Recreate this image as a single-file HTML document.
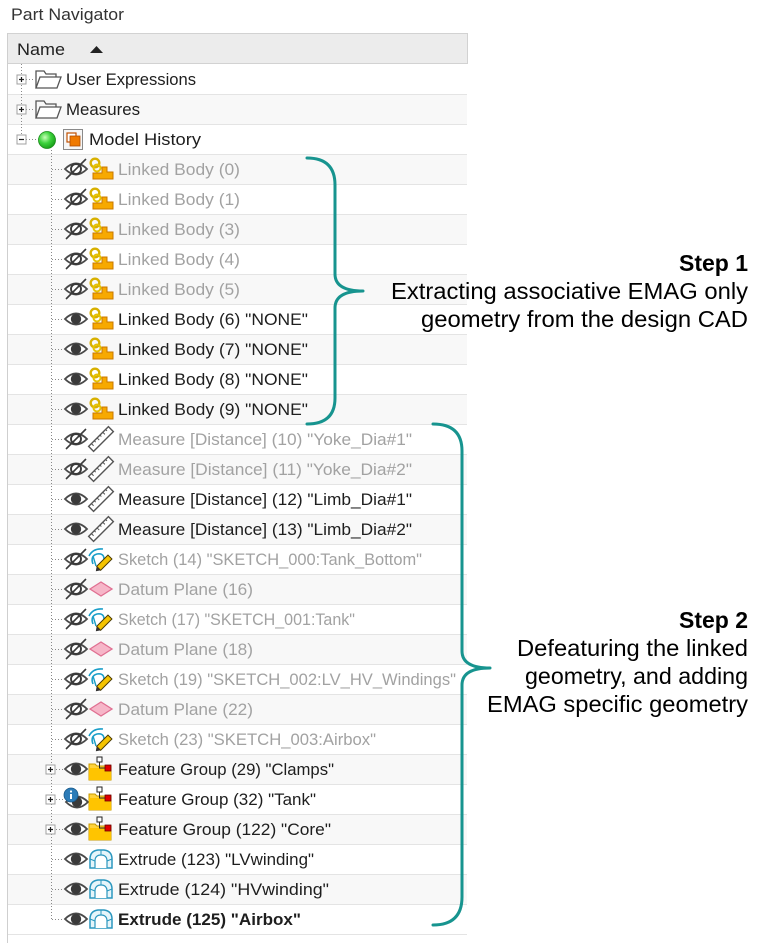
<!DOCTYPE html>
<html><head><meta charset="utf-8">
<style>
html,body{margin:0;padding:0;background:#fff;}
svg{display:block;font-family:"Liberation Sans",Arial,sans-serif;}
</style></head>
<body>
<svg width="764" height="943" viewBox="0 0 764 943" xmlns="http://www.w3.org/2000/svg">
<defs>
  <radialGradient id="gg" cx="0.38" cy="0.35" r="0.7">
    <stop offset="0" stop-color="#c8ffb8"/>
    <stop offset="0.5" stop-color="#3cd23c"/>
    <stop offset="1" stop-color="#169a16"/>
  </radialGradient>
  <g id="eye">
    <path d="M-11,0 Q0,-11 11,0 Q0,11 -11,0Z" fill="#fff" stroke="#4a4a4a" stroke-width="1.8"/>
    <circle r="5.2" fill="#3a3a3a"/>
  </g>
  <g id="heye">
    <path d="M-11,0 Q0,-11 11,0 Q0,11 -11,0Z" fill="#fff" stroke="#4a4a4a" stroke-width="1.8"/>
    <circle r="5" fill="none" stroke="#3a3a3a" stroke-width="1.9"/>
    <line x1="-10" y1="10" x2="10" y2="-10" stroke="#3a3a3a" stroke-width="1.6"/>
  </g>
  <g id="link">
    <circle cx="-6" cy="-6" r="4.3" fill="none" stroke="#d8b000" stroke-width="2.4"/>
    <circle cx="-4" cy="-1" r="3.5" fill="none" stroke="#e6c200" stroke-width="2"/>
    <path d="M-8,10 L12,10 L12,3 L6,3 L6,-2 L1,-2 L1,4 L-8,4Z" fill="#f7a900" stroke="#c87800" stroke-width="1"/>
  </g>
  <g id="ruler">
    <g transform="rotate(-45)">
      <rect x="-14" y="-3.5" width="28" height="7" fill="#fff" stroke="#555" stroke-width="1.4"/>
      <path d="M-10,-3.5v3 M-6,-3.5v2 M-2,-3.5v3 M2,-3.5v2 M6,-3.5v3 M10,-3.5v2" stroke="#555" stroke-width="1"/>
    </g>
  </g>
  <g id="sketch">
    <path d="M-12,-3 Q-8,-11 2,-10" fill="none" stroke="#1a9ec8" stroke-width="1.6"/>
    <path d="M-8,5 Q-11,-3 -4,-5 Q3,-6 3,0" fill="none" stroke="#1a9ec8" stroke-width="1.6"/>
    <path d="M-5,7 L-8,-3" fill="none" stroke="#1a9ec8" stroke-width="1.4"/>
    <g transform="translate(4,3) rotate(-45)">
      <rect x="-9" y="-2.8" width="16" height="5.6" fill="#f5c400" stroke="#4a3a00" stroke-width="1"/>
      <path d="M-9,-2.8 L-13,0 L-9,2.8Z" fill="#333"/>
    </g>
  </g>
  <g id="datum">
    <polygon points="-11,0 0,-7 11,0 0,7" fill="#f6b6c8" stroke="#e07092" stroke-width="1.3"/>
  </g>
  <g id="fgroup">
    <path d="M-12,11 V-5 H-6 L-4,-3 H10 V11Z" fill="#ffd23a" stroke="#c79a00" stroke-width="1"/>
    <path d="M-12,11 V-1 H10 V11Z" fill="#ffc400"/>
    <rect x="-4" y="-12" width="5" height="5" fill="#fff" stroke="#222" stroke-width="1"/>
    <path d="M-1.5,-7 V-1 H4" fill="none" stroke="#222" stroke-width="1"/>
    <rect x="4" y="-4" width="6" height="6" fill="#e00000" stroke="#600" stroke-width="0.8"/>
  </g>
  <g id="extrude">
    <path d="M-11,9 V0 Q-11,-8 -3,-9 L3,-9 Q11,-8 11,0 V9Z" fill="#e6f5fa" stroke="#2b97bf" stroke-width="1.5"/>
    <path d="M-6,9 V2 Q-6,-4 0,-4 Q6,-4 6,2 V9" fill="#fff" stroke="#2b97bf" stroke-width="1.2"/>
    <path d="M-11,0 L-6,2 M11,0 L6,2 M0,-9 V-4" stroke="#2b97bf" stroke-width="1"/>
  </g>
  <g id="plus">
    <rect x="-4.5" y="-4.5" width="9" height="9" fill="#fff" stroke="#a0a0a0" stroke-width="1"/>
    <path d="M-2.5,0 H2.5 M0,-2.5 V2.5" stroke="#222" stroke-width="1.2"/>
  </g>
  <g id="minus">
    <rect x="-4.5" y="-4.5" width="9" height="9" fill="#fff" stroke="#a0a0a0" stroke-width="1"/>
    <path d="M-2.5,0 H2.5" stroke="#222" stroke-width="1.2"/>
  </g>
  <g id="folder">
    <path d="M-12,9 V-8 H-4 L-2,-5 H8 V-2" fill="none" stroke="#555" stroke-width="1.3"/>
    <path d="M-12,9 L-8,-2 H13 L9,9Z" fill="#fff" stroke="#555" stroke-width="1.3"/>
  </g>
</defs>

<!-- title -->
<text x="11" y="20" font-size="17" fill="#333" textLength="113" lengthAdjust="spacingAndGlyphs">Part Navigator</text>

<!-- panel header -->
<rect x="7.5" y="33.5" width="460" height="30" fill="#ececec" stroke="#d2d2d2" stroke-width="1"/>
<text x="17" y="55" font-size="17" fill="#222" textLength="48" lengthAdjust="spacingAndGlyphs">Name</text>
<polygon points="90,53 103,53 96.5,46" fill="#222"/>

<!-- rows backgrounds -->
<g>
  <rect x="8" y="94" width="459" height="30" fill="#f8f8f8"/>
  <rect x="8" y="154" width="459" height="30" fill="#f8f8f8"/>
  <rect x="8" y="214" width="459" height="30" fill="#f8f8f8"/>
  <rect x="8" y="274" width="459" height="30" fill="#f8f8f8"/>
  <rect x="8" y="334" width="459" height="30" fill="#f8f8f8"/>
  <rect x="8" y="394" width="459" height="30" fill="#f8f8f8"/>
  <rect x="8" y="454" width="459" height="30" fill="#f8f8f8"/>
  <rect x="8" y="514" width="459" height="30" fill="#f8f8f8"/>
  <rect x="8" y="574" width="459" height="30" fill="#f8f8f8"/>
  <rect x="8" y="634" width="459" height="30" fill="#f8f8f8"/>
  <rect x="8" y="694" width="459" height="30" fill="#f8f8f8"/>
  <rect x="8" y="754" width="459" height="30" fill="#f8f8f8"/>
  <rect x="8" y="814" width="459" height="30" fill="#f8f8f8"/>
  <rect x="8" y="874" width="459" height="30" fill="#f8f8f8"/>
</g>
<g stroke="#e4e4e4" stroke-width="1">
  <path d="M8,94.5H467 M8,124.5H467 M8,154.5H467 M8,184.5H467 M8,214.5H467 M8,244.5H467 M8,274.5H467 M8,304.5H467 M8,334.5H467 M8,364.5H467 M8,394.5H467 M8,424.5H467 M8,454.5H467 M8,484.5H467 M8,514.5H467 M8,544.5H467 M8,574.5H467 M8,604.5H467 M8,634.5H467 M8,664.5H467 M8,694.5H467 M8,724.5H467 M8,754.5H467 M8,784.5H467 M8,814.5H467 M8,844.5H467 M8,874.5H467 M8,904.5H467 M8,934.5H467"/>
</g>
<line x1="7.5" y1="33" x2="7.5" y2="943" stroke="#cfcfcf" stroke-width="1"/>

<!-- tree lines -->
<g stroke="#8a8a8a" stroke-width="1" stroke-dasharray="1,2" fill="none">
  <path d="M21.5,64 V139"/>
  <path d="M26,79.5 H35 M26,109.5 H35 M26,139.5 H38"/>
  <path d="M51.5,150 V919"/>
  <path d="M52,169.5H63 M52,199.5H63 M52,229.5H63 M52,259.5H63 M52,289.5H63 M52,319.5H63 M52,349.5H63 M52,379.5H63 M52,409.5H63 M52,439.5H63 M52,469.5H63 M52,499.5H63 M52,529.5H63 M52,559.5H63 M52,589.5H63 M52,619.5H63 M52,649.5H63 M52,679.5H63 M52,709.5H63 M52,739.5H63 M56,769.5H63 M56,799.5H63 M56,829.5H63 M52,859.5H63 M52,889.5H63 M52,919.5H63"/>
</g>

<!-- top-level rows -->
<use href="#plus" x="21.5" y="79.5"/>
<use href="#folder" x="48" y="79"/>
<text x="66" y="85" font-size="16.5" fill="#1e1e1e" textLength="130" lengthAdjust="spacingAndGlyphs">User Expressions</text>

<use href="#plus" x="21.5" y="109.5"/>
<use href="#folder" x="48" y="109"/>
<text x="66" y="115" font-size="16.5" fill="#1e1e1e" textLength="74" lengthAdjust="spacingAndGlyphs">Measures</text>

<use href="#minus" x="21.5" y="139.5"/>
<circle cx="47" cy="140" r="8.5" fill="url(#gg)" stroke="#1a8a1a" stroke-width="0.8"/>
<rect x="63.5" y="129.5" width="19" height="20" fill="#f6f6f6" stroke="#8a8a8a" stroke-width="1"/>
<rect x="67" y="133" width="9" height="9" fill="#fff" stroke="#c05000" stroke-width="1.2"/>
<rect x="70" y="136" width="10" height="10" fill="#f07a00" stroke="#b04c00" stroke-width="0.8"/>
<text x="89" y="145" font-size="16.5" fill="#1e1e1e" textLength="112" lengthAdjust="spacingAndGlyphs">Model History</text>

<!-- children -->
<g font-size="16.5">
  <use href="#heye" x="76" y="169"/><use href="#link" x="101" y="169"/>
  <text x="118" y="175" fill="#a2a2a2" textLength="122" lengthAdjust="spacingAndGlyphs">Linked Body (0)</text>

  <use href="#heye" x="76" y="199"/><use href="#link" x="101" y="199"/>
  <text x="118" y="205" fill="#a2a2a2" textLength="122" lengthAdjust="spacingAndGlyphs">Linked Body (1)</text>

  <use href="#heye" x="76" y="229"/><use href="#link" x="101" y="229"/>
  <text x="118" y="235" fill="#a2a2a2" textLength="122" lengthAdjust="spacingAndGlyphs">Linked Body (3)</text>

  <use href="#heye" x="76" y="259"/><use href="#link" x="101" y="259"/>
  <text x="118" y="265" fill="#a2a2a2" textLength="122" lengthAdjust="spacingAndGlyphs">Linked Body (4)</text>

  <use href="#heye" x="76" y="289"/><use href="#link" x="101" y="289"/>
  <text x="118" y="295" fill="#a2a2a2" textLength="122" lengthAdjust="spacingAndGlyphs">Linked Body (5)</text>

  <use href="#eye" x="76" y="319"/><use href="#link" x="101" y="319"/>
  <text x="118" y="325" fill="#1e1e1e" textLength="190" lengthAdjust="spacingAndGlyphs">Linked Body (6) "NONE"</text>

  <use href="#eye" x="76" y="349"/><use href="#link" x="101" y="349"/>
  <text x="118" y="355" fill="#1e1e1e" textLength="190" lengthAdjust="spacingAndGlyphs">Linked Body (7) "NONE"</text>

  <use href="#eye" x="76" y="379"/><use href="#link" x="101" y="379"/>
  <text x="118" y="385" fill="#1e1e1e" textLength="190" lengthAdjust="spacingAndGlyphs">Linked Body (8) "NONE"</text>

  <use href="#eye" x="76" y="409"/><use href="#link" x="101" y="409"/>
  <text x="118" y="415" fill="#1e1e1e" textLength="190" lengthAdjust="spacingAndGlyphs">Linked Body (9) "NONE"</text>

  <use href="#heye" x="76" y="439"/><use href="#ruler" x="101" y="439"/>
  <text x="118" y="445" fill="#a2a2a2" textLength="294" lengthAdjust="spacingAndGlyphs">Measure [Distance] (10) "Yoke_Dia#1"</text>

  <use href="#heye" x="76" y="469"/><use href="#ruler" x="101" y="469"/>
  <text x="118" y="475" fill="#a2a2a2" textLength="294" lengthAdjust="spacingAndGlyphs">Measure [Distance] (11) "Yoke_Dia#2"</text>

  <use href="#eye" x="76" y="499"/><use href="#ruler" x="101" y="499"/>
  <text x="118" y="505" fill="#1e1e1e" textLength="294" lengthAdjust="spacingAndGlyphs">Measure [Distance] (12) "Limb_Dia#1"</text>

  <use href="#eye" x="76" y="529"/><use href="#ruler" x="101" y="529"/>
  <text x="118" y="535" fill="#1e1e1e" textLength="294" lengthAdjust="spacingAndGlyphs">Measure [Distance] (13) "Limb_Dia#2"</text>

  <use href="#heye" x="76" y="559"/><use href="#sketch" x="101" y="559"/>
  <text x="118" y="565" fill="#a2a2a2" textLength="304" lengthAdjust="spacingAndGlyphs">Sketch (14) "SKETCH_000:Tank_Bottom"</text>

  <use href="#heye" x="76" y="589"/><use href="#datum" x="101" y="589"/>
  <text x="118" y="595" fill="#a2a2a2" textLength="135" lengthAdjust="spacingAndGlyphs">Datum Plane (16)</text>

  <use href="#heye" x="76" y="619"/><use href="#sketch" x="101" y="619"/>
  <text x="118" y="625" fill="#a2a2a2" textLength="237" lengthAdjust="spacingAndGlyphs">Sketch (17) "SKETCH_001:Tank"</text>

  <use href="#heye" x="76" y="649"/><use href="#datum" x="101" y="649"/>
  <text x="118" y="655" fill="#a2a2a2" textLength="135" lengthAdjust="spacingAndGlyphs">Datum Plane (18)</text>

  <use href="#heye" x="76" y="679"/><use href="#sketch" x="101" y="679"/>
  <text x="118" y="685" fill="#a2a2a2" textLength="338" lengthAdjust="spacingAndGlyphs">Sketch (19) "SKETCH_002:LV_HV_Windings"</text>

  <use href="#heye" x="76" y="709"/><use href="#datum" x="101" y="709"/>
  <text x="118" y="715" fill="#a2a2a2" textLength="135" lengthAdjust="spacingAndGlyphs">Datum Plane (22)</text>

  <use href="#heye" x="76" y="739"/><use href="#sketch" x="101" y="739"/>
  <text x="118" y="745" fill="#a2a2a2" textLength="258" lengthAdjust="spacingAndGlyphs">Sketch (23) "SKETCH_003:Airbox"</text>

  <use href="#plus" x="50.5" y="769.5"/>
  <use href="#eye" x="76" y="769"/><use href="#fgroup" x="101" y="769"/>
  <text x="118" y="775" fill="#1e1e1e" textLength="216" lengthAdjust="spacingAndGlyphs">Feature Group (29) "Clamps"</text>

  <use href="#plus" x="50.5" y="799.5"/>
  <use href="#eye" x="77" y="802"/>
  <circle cx="71" cy="795" r="7" fill="#2c7cb8" stroke="#1a5a8a" stroke-width="0.8"/>
  <rect x="70" y="794" width="2" height="5" fill="#fff"/>
  <circle cx="71" cy="791.5" r="1.1" fill="#fff"/>
  <use href="#fgroup" x="101" y="799"/>
  <text x="118" y="805" fill="#1e1e1e" textLength="198" lengthAdjust="spacingAndGlyphs">Feature Group (32) "Tank"</text>

  <use href="#plus" x="50.5" y="829.5"/>
  <use href="#eye" x="76" y="829"/><use href="#fgroup" x="101" y="829"/>
  <text x="118" y="835" fill="#1e1e1e" textLength="213" lengthAdjust="spacingAndGlyphs">Feature Group (122) "Core"</text>

  <use href="#eye" x="76" y="859"/><use href="#extrude" x="101" y="859"/>
  <text x="118" y="865" fill="#1e1e1e" textLength="196" lengthAdjust="spacingAndGlyphs">Extrude (123) "LVwinding"</text>

  <use href="#eye" x="76" y="889"/><use href="#extrude" x="101" y="889"/>
  <text x="118" y="895" fill="#1e1e1e" textLength="211" lengthAdjust="spacingAndGlyphs">Extrude (124) "HVwinding"</text>

  <use href="#eye" x="76" y="919"/><use href="#extrude" x="101" y="919"/>
  <text x="118" y="925" fill="#1e1e1e" font-weight="bold" textLength="183" lengthAdjust="spacingAndGlyphs">Extrude (125) "Airbox"</text>
</g>

<!-- braces -->
<g fill="none" stroke="#17948f" stroke-width="3" stroke-linecap="round" stroke-linejoin="round">
  <path d="M307,158 Q335,158 335,185 L335,274 Q335,291 363,291 Q335,291 335,308 L335,398 Q335,424 307,424"/>
  <path d="M433,424 Q462,424 462,451 L462,651 Q462,668 490,668 Q462,668 462,685 L462,897 Q462,925 433,925"/>
</g>

<!-- labels -->
<g font-size="23.5" fill="#000">
  <text x="679" y="271" font-weight="bold" textLength="69" lengthAdjust="spacingAndGlyphs">Step 1</text>
  <text x="391" y="299" textLength="357" lengthAdjust="spacingAndGlyphs">Extracting associative EMAG only</text>
  <text x="421" y="327" textLength="327" lengthAdjust="spacingAndGlyphs">geometry from the design CAD</text>

  <text x="679" y="628" font-weight="bold" textLength="69" lengthAdjust="spacingAndGlyphs">Step 2</text>
  <text x="517" y="656" textLength="231" lengthAdjust="spacingAndGlyphs">Defeaturing the linked</text>
  <text x="525" y="684" textLength="223" lengthAdjust="spacingAndGlyphs">geometry, and adding</text>
  <text x="487" y="712" textLength="261" lengthAdjust="spacingAndGlyphs">EMAG specific geometry</text>
</g>
</svg>
</body></html>
